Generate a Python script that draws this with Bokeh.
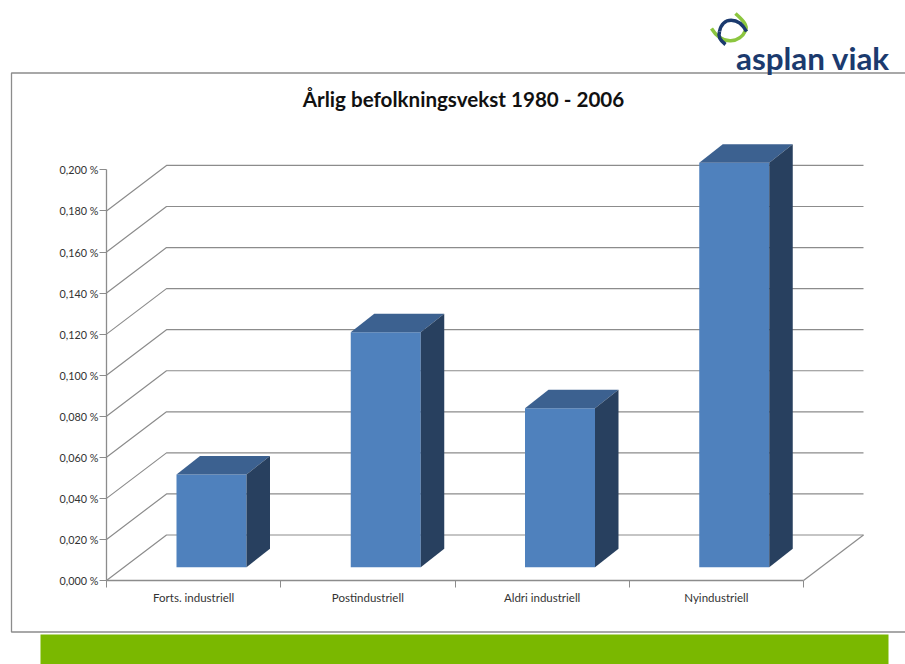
from bokeh.core.properties import value
from bokeh.embed import file_html
from bokeh.models import FixedTicker, LinearAxis, Range1d
from bokeh.plotting import figure
from bokeh.resources import INLINE

# ---- data ----
categories = ["Forts. industriell", "Postindustriell", "Aldri industriell", "Nyindustriell"]
growth = [0.0452, 0.1145, 0.0774, 0.1970]
y_ticks = [0.0, 0.02, 0.04, 0.06, 0.08, 0.10, 0.12, 0.14, 0.16, 0.18, 0.20]
y_labels = ["0,000 %", "0,020 %", "0,040 %", "0,060 %", "0,080 %", "0,100 %",
            "0,120 %", "0,140 %", "0,160 %", "0,180 %", "0,200 %"]
title_text = "Årlig befolkningsvekst 1980 - 2006"
logo_text = "asplan viak"

# ---- layout ----
W, H = 905, 664
X0, Y0 = 106, 580          # page pixel of category 0 / value 0
PXX, PXY = 174.25, 2053.0  # pixels per category band, per unit of value
GREY = "#8c8c8c"
FRONT, TOP, SIDE = "#4f81bd", "#3c6190", "#28405f"
FONT = "Lato"


def fx(px):
    return (px - X0) / PXX


def fy(px):
    return (Y0 - px) / PXY


p = figure(width=W, height=H, output_backend="svg", toolbar_location=None,
           x_axis_type=None, y_axis_type=None,
           x_range=Range1d(fx(0), fx(W)), y_range=Range1d(fy(H), fy(0)),
           min_border=0, outline_line_color=None,
           background_fill_color="white", border_fill_color="white")
p.xgrid.visible = False
p.ygrid.visible = False

# axes: fixed in the frame, which covers the whole canvas
yaxis = LinearAxis(ticker=FixedTicker(ticks=y_ticks), bounds=(0, 0.2), fixed_location=0,
                   major_label_overrides=dict(zip(y_ticks, y_labels)))
yaxis.major_tick_out = 7
yaxis.major_tick_in = 0
yaxis.major_label_standoff = 1
yaxis.major_label_text_font_size = "10.8px"
p.add_layout(yaxis, "left")

centres = [i + 0.5 for i in range(len(categories))]
edges = [float(i) for i in range(len(categories) + 1)]
xaxis = LinearAxis(ticker=FixedTicker(ticks=centres, minor_ticks=edges), bounds=(0, 4), fixed_location=0,
                   major_label_overrides=dict(zip(centres, categories)))
xaxis.major_tick_in = 0
xaxis.major_tick_out = 0
xaxis.minor_tick_in = 0
xaxis.minor_tick_out = 7
xaxis.major_label_standoff = 3
xaxis.major_label_text_font_size = "11.5px"
p.add_layout(xaxis, "below")

for ax in (xaxis, yaxis):
    ax.axis_line_color = GREY
    ax.axis_line_width = 1.3
    ax.major_tick_line_color = GREY if ax is yaxis else None
    ax.minor_tick_line_color = GREY if ax is xaxis else None
    ax.major_label_text_font = FONT
    ax.major_label_text_color = "#333333"

# slide furniture: outer frame and green band
p.line([fx(W), fx(11), fx(11), fx(W)], [fy(72.5), fy(72.5), fy(631.5), fy(631.5)],
       line_color=GREY, line_width=1.3)
p.quad(left=[fx(40)], right=[fx(888)], top=[fy(634)], bottom=[fy(H)],
       fill_color="#7ab800", line_color=None)

# back wall, side wall and floor lines
dx_wall = 60 / PXX
dy_wall = 45.5 / PXY
n = len(categories)
xs = [[0, dx_wall, n + dx_wall] for _ in y_ticks[:-1]]
ys = [[v, v + dy_wall, v + dy_wall] for v in y_ticks[:-1]]
p.multi_line(xs, ys, line_color=GREY, line_width=1.2)
p.line([n, n + dx_wall], [0, dy_wall], line_color=GREY, line_width=1.2)

# 3D bars
bar_w = 70 / PXX
bar_off = (176 - X0) / PXX
base = 13.3 / PXY
dx_bar = 23.5 / PXX
dy_bar = 18.5 / PXY
lefts = [i + bar_off for i in range(n)]
rights = [l + bar_w for l in lefts]
tops = [base + g for g in growth]
p.quad(left=lefts, right=rights, bottom=base, top=tops, fill_color=FRONT, line_color=None)
p.patches([[l, r, r + dx_bar, l + dx_bar] for l, r in zip(lefts, rights)],
          [[t, t, t + dy_bar, t + dy_bar] for t in tops],
          fill_color=TOP, line_color=None)
p.patches([[r, r + dx_bar, r + dx_bar, r] for r in rights],
          [[base, base + dy_bar, t + dy_bar, t] for t in tops],
          fill_color=SIDE, line_color=None)

# title
p.text([fx(463)], [fy(98.5)], text=[title_text], text_align="center", text_baseline="middle",
       text_font=value(FONT), text_font_style="bold", text_font_size="20.6px", text_color="#111111")

# logo
p.text([fx(735.5)], [fy(57.5)], text=[logo_text], text_align="left", text_baseline="alphabetic",
       text_font=value(FONT), text_font_style="bold", text_font_size="31.4px", text_color="#1b3a6e")
p.bezier(x0=[fx(711), fx(745)], y0=[fy(28), fy(30)], x1=[fx(745), fx(735)], y1=[fy(30), fy(13)],
         cx0=[fx(722), fx(748)], cy0=[fy(46), fy(24)], cx1=[fx(740), fx(740)], cy1=[fy(42), fy(18)],
         line_color="#8cc63f", line_width=3.5)
p.bezier(x0=[fx(746), fx(719)], y0=[fy(31), fy(31)], x1=[fx(719), fx(725)], y1=[fy(31), fy(44)],
         cx0=[fx(738), fx(717)], cy0=[fy(16), fy(37)], cx1=[fx(722), fx(721)], cy1=[fy(16), fy(41)],
         line_color="#1b3a6e", line_width=3.5)

open("out.html", "w").write(file_html(p, INLINE))
